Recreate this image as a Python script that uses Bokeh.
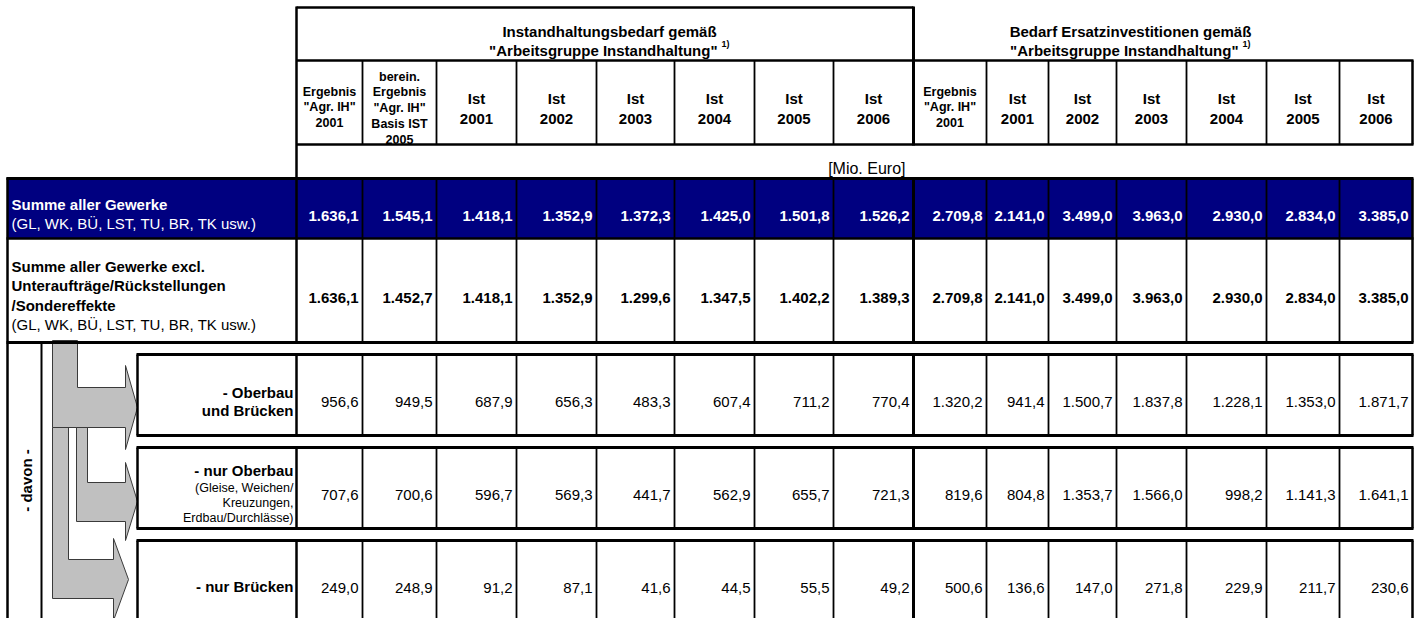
import math
from bokeh.plotting import figure
from bokeh.models import Range1d, ColumnDataSource
from bokeh.core.properties import value
from bokeh.embed import file_html
from bokeh.resources import INLINE

# ---------------- data ----------------
group_titles = ["Instandhaltungsbedarf gemäß", "Bedarf Ersatzinvestitionen gemäß"]
group_subtitle = '"Arbeitsgruppe Instandhaltung"'
footnote_mark = "1)"
column_headers = [
    ["Ergebnis", '"Agr. IH"', "2001"],
    ["berein.", "Ergebnis", '"Agr. IH"', "Basis IST", "2005"],
    ["Ist", "2001"], ["Ist", "2002"], ["Ist", "2003"],
    ["Ist", "2004"], ["Ist", "2005"], ["Ist", "2006"],
    ["Ergebnis", '"Agr. IH"', "2001"],
    ["Ist", "2001"], ["Ist", "2002"], ["Ist", "2003"],
    ["Ist", "2004"], ["Ist", "2005"], ["Ist", "2006"],
]
unit_label = "[Mio. Euro]"
row_labels = [
    ["Summe aller Gewerke", "(GL, WK, BÜ, LST, TU, BR, TK usw.)"],
    ["Summe aller Gewerke excl.", "Unteraufträge/Rückstellungen", "/Sondereffekte",
     "(GL, WK, BÜ, LST, TU, BR, TK usw.)"],
    ["- Oberbau", "und Brücken"],
    ["- nur Oberbau", "(Gleise, Weichen/", "Kreuzungen,", "Erdbau/Durchlässe)"],
    ["- nur Brücken"],
]
davon_label = "- davon -"

summe_alle = [1636.1, 1545.1, 1418.1, 1352.9, 1372.3, 1425.0, 1501.8, 1526.2,
              2709.8, 2141.0, 3499.0, 3963.0, 2930.0, 2834.0, 3385.0]
summe_excl = [1636.1, 1452.7, 1418.1, 1352.9, 1299.6, 1347.5, 1402.2, 1389.3,
              2709.8, 2141.0, 3499.0, 3963.0, 2930.0, 2834.0, 3385.0]
oberbau_bruecken = [956.6, 949.5, 687.9, 656.3, 483.3, 607.4, 711.2, 770.4,
                    1320.2, 941.4, 1500.7, 1837.8, 1228.1, 1353.0, 1871.7]
nur_oberbau = [707.6, 700.6, 596.7, 569.3, 441.7, 562.9, 655.7, 721.3,
               819.6, 804.8, 1353.7, 1566.0, 998.2, 1141.3, 1641.1]
nur_bruecken = [249.0, 248.9, 91.2, 87.1, 41.6, 44.5, 55.5, 49.2,
                500.6, 136.6, 147.0, 271.8, 229.9, 211.7, 230.6]
row_values = [summe_alle, summe_excl, oberbau_bruecken, nur_oberbau, nur_bruecken]


def de(v):
    s = f"{v:,.1f}"
    return s.replace(",", "X").replace(".", ",").replace("X", ".")


# ---------------- layout ----------------
FONT = "Liberation Sans"
col_edges = [296, 362, 436, 516, 596, 674, 754, 833, 913,
             986, 1048, 1116, 1186, 1266, 1339, 1412]

p = figure(width=1414, height=618, x_range=Range1d(0, 1414), y_range=Range1d(618, 0),
           output_backend="svg", toolbar_location=None, min_border=0,
           x_axis_location=None, y_axis_location=None)
p.grid.visible = False
p.outline_line_color = None
p.background_fill_color = "white"
p.border_fill_color = "white"

# navy summary row
p.quad(left=[7], right=[1412], top=[178], bottom=[238], fill_color="#000080", line_color=None)

# arrows
arrow_xs = [[52, 68, 68, 113, 113, 128, 113, 113, 52],
            [52, 77, 77, 125, 125, 137, 125, 125, 52],
            [76, 87, 87, 125, 125, 137, 125, 125, 76]]
arrow_ys = [[427, 427, 559, 559, 538, 579, 620, 598, 598],
            [340, 340, 387, 387, 365, 407, 449, 427, 427],
            [427, 427, 482, 482, 462, 501, 540, 521, 521]]
p.patches(xs=arrow_xs, ys=arrow_ys, fill_color="#c0c0c0", line_color="#3a3a3a", line_width=1)

# grid lines
seg = dict(x0=[], y0=[], x1=[], y1=[], w=[], c=[])


def hline(y, xa, xb, w=2.5, c="black"):
    seg["x0"].append(xa); seg["x1"].append(xb); seg["y0"].append(y); seg["y1"].append(y)
    seg["w"].append(w); seg["c"].append(c)


def vline(x, ya, yb, w=2.0, c="black"):
    seg["x0"].append(x); seg["x1"].append(x); seg["y0"].append(ya); seg["y1"].append(yb)
    seg["w"].append(w); seg["c"].append(c)


def edge_w(e):
    if e == 913:
        return 3.0
    if e in (296, 1412):
        return 2.5
    return 1.8


hline(7, 296, 913, 2.5)
vline(296, 6, 179, 2.5)
vline(913, 6, 145, 3.0)
hline(60, 296, 1413, 2.5)
for e in col_edges[1:]:
    vline(e, 60, 144, edge_w(e))
hline(144, 296, 1413, 2.5)

hline(178, 6, 1413, 3)
hline(238, 6, 1413, 2.5)
hline(342, 6, 1413, 3)
vline(7, 177, 620, 2.5)
for e in col_edges:
    vline(e, 178, 342, edge_w(e))
vline(41, 342, 620, 2.0)

boxes = [(354, 435), (447, 528), (540, 640)]
for t, b in boxes:
    hline(t, 136, 1413, 3)
    hline(b, 136, 1413, 3)
    vline(137, t, b, 2.5)
    for e in col_edges:
        vline(e, t, b, edge_w(e))

p.segment(x0="x0", y0="y0", x1="x1", y1="y1", line_width="w", line_color="c",
          source=ColumnDataSource(seg))


def draw_text(xs, ys, texts, size, bold=False, color="black", align="left",
              baseline="alphabetic", angle=0.0):
    src = ColumnDataSource(dict(x=xs, y=ys, text=texts))
    p.text(x="x", y="y", text="text", source=src, text_font=value(FONT),
           text_font_size=value(f"{size}px"),
           text_font_style="bold" if bold else "normal",
           text_color=color, text_align=align, text_baseline=baseline, angle=angle)


# group titles
group_centers = [609, 1130]
draw_text(group_centers, [30.5, 30.5], group_titles, 15, bold=True, align="center")
draw_text([c + 108 for c in group_centers], [50, 50], [group_subtitle] * 2, 15,
          bold=True, align="right")
draw_text([c + 112 for c in group_centers], [43.5, 43.5], [footnote_mark] * 2, 9, bold=True)

# column headers
head_base = {2: ([97.5, 118], 15), 3: ([91, 106.5, 121.5], 12.5),
             5: ([76, 91.5, 107.5, 123, 139], 12.5)}
for j, lines in enumerate(column_headers):
    cx = (col_edges[j] + col_edges[j + 1]) / 2
    ys, size = head_base[len(lines)]
    draw_text([cx] * len(lines), ys, lines, size, bold=True, align="center")

draw_text([905], [168], [unit_label], 16, align="right")

# row labels
label_x = [11, 11, 293, 293, 293]
label_align = ["left", "left", "right", "right", "right"]
label_base = [[204, 223.3], [266, 285, 305, 324], [391.5, 410],
              [470, 487, 502, 517.5], [586]]
label_bold = [[True, False], [True, True, True, False], [True, True],
              [True, False, False, False], [True]]
label_size = [[15, 15], [15, 15, 15, 15], [15, 15], [15, 12.5, 12.5, 12.5], [15]]
label_color = ["white", "black", "black", "black", "black"]
for i, lines in enumerate(row_labels):
    for k, line in enumerate(lines):
        draw_text([label_x[i]], [label_base[i][k]], [line], label_size[i][k],
                  bold=label_bold[i][k], color=label_color[i], align=label_align[i])

# values
value_base = [215, 297, 401, 494, 587]
value_bold = [True, True, False, False, False]
for i, vals in enumerate(row_values):
    xs = [col_edges[j + 1] - 4 for j in range(len(vals))]
    draw_text(xs, [value_base[i]] * len(vals), [de(v) for v in vals], 15,
              bold=value_bold[i], color=label_color[i], align="right")

draw_text([25.5], [480], [davon_label], 15, bold=True, align="center",
          baseline="middle", angle=math.pi / 2)

open("out.html", "w").write(file_html(p, INLINE))
